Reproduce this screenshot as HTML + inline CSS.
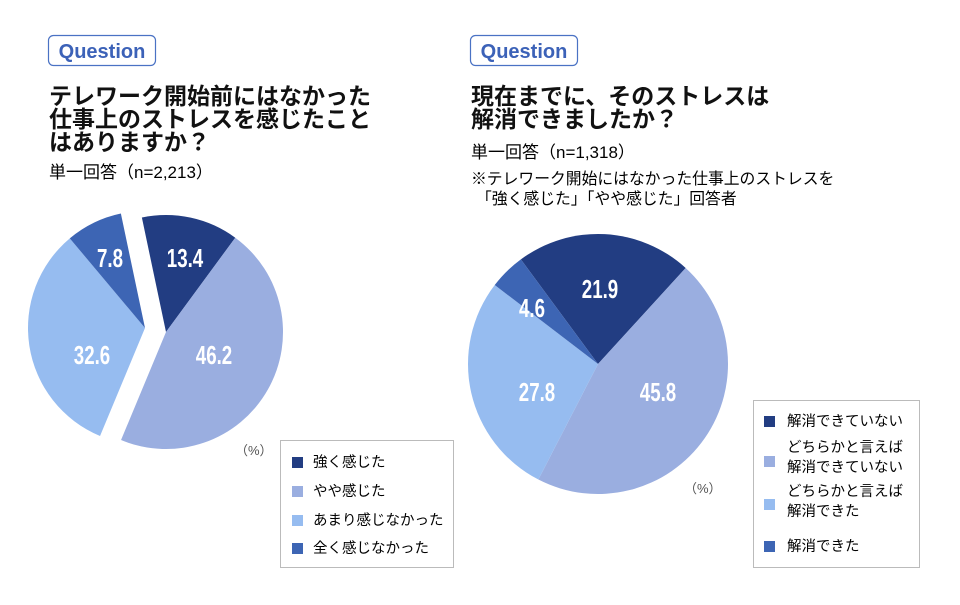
<!DOCTYPE html>
<html><head><meta charset="utf-8"><style>
body{margin:0;width:960px;height:600px;background:#fff;overflow:hidden;font-family:"Liberation Sans","Noto Sans CJK JP",sans-serif;color:#111}
</style></head><body>
<svg id="s" width="960" height="600" xmlns="http://www.w3.org/2000/svg" font-family="Liberation Sans, Noto Sans CJK JP, sans-serif">
<rect x="48.5" y="35.5" width="107" height="30" rx="5" fill="none" stroke="#4a72c4" stroke-width="1.2"/>
<text x="102" y="58" text-anchor="middle" font-size="20" font-weight="bold" fill="#3c62b8">Question</text>
<rect x="470.5" y="35.5" width="107" height="30" rx="5" fill="none" stroke="#4a72c4" stroke-width="1.2"/>
<text x="524" y="58" text-anchor="middle" font-size="20" font-weight="bold" fill="#3c62b8">Question</text>
<g font-size="23" font-weight="bold" fill="#111">
<text x="49" y="104">テレワーク開始前にはなかった</text>
<text x="49" y="127">仕事上のストレスを感じたこと</text>
<text x="49" y="150">はありますか？</text>
<text x="471" y="104">現在までに、そのストレスは</text>
<text x="471" y="127">解消できましたか？</text>
</g>
<text x="49" y="178" font-size="17">単一回答（n=2,213）</text>
<text x="471" y="158" font-size="17">単一回答（n=1,318）</text>
<text x="471" y="184" font-size="15.8">※テレワーク開始にはなかった仕事上のストレスを</text>
<text x="476" y="204" font-size="15.8">「強く感じた」「やや感じた」回答者</text>
<g id="pies"></g>
<g id="lbl" font-size="26" font-weight="bold" fill="#fff" text-anchor="middle"></g>
<text x="235" y="455" font-size="13" fill="#555">（%）</text>
<text x="684" y="493" font-size="13" fill="#555">（%）</text>
<rect x="280.5" y="440.5" width="173" height="127" fill="#fff" stroke="#bbb"/>
<g font-size="14.5">
<rect x="292" y="457" width="11" height="11" fill="#223d82"/><text x="313" y="467">強く感じた</text>
<rect x="292" y="486" width="11" height="11" fill="#9aaee0"/><text x="313" y="496">やや感じた</text>
<rect x="292" y="515" width="11" height="11" fill="#96bcf0"/><text x="313" y="525">あまり感じなかった</text>
<rect x="292" y="543" width="11" height="11" fill="#3d65b4"/><text x="313" y="553">全く感じなかった</text>
</g>
<rect x="753.5" y="400.5" width="166" height="167" fill="#fff" stroke="#bbb"/>
<g font-size="14.5">
<rect x="764" y="416" width="11" height="11" fill="#223d82"/><text x="787" y="426">解消できていない</text>
<rect x="764" y="456" width="11" height="11" fill="#9aaee0"/><text x="787" y="452">どちらかと言えば</text><text x="787" y="472">解消できていない</text>
<rect x="764" y="499" width="11" height="11" fill="#96bcf0"/><text x="787" y="496">どちらかと言えば</text><text x="787" y="516">解消できた</text>
<rect x="764" y="541" width="11" height="11" fill="#3d65b4"/><text x="787" y="551">解消できた</text>
</g>
</svg>
<script>
function arc(cx,cy,r,a0,a1,c){
 const p=a=>{const t=a*Math.PI/180;return [cx+r*Math.sin(t),cy-r*Math.cos(t)]};
 const s=p(a0),e=p(a1);const l=(a1-a0)>180?1:0;
 return `<path d="M${cx},${cy}L${s[0].toFixed(2)},${s[1].toFixed(2)}A${r},${r} 0 ${l} 1 ${e[0].toFixed(2)},${e[1].toFixed(2)}Z" fill="${c}"/>`;
}
let h='';
h+=arc(166,332,117,-11.9,36.3,'#223d82');
h+=arc(166,332,117,36.3,202.6,'#9aaee0');
h+=arc(145,328,117,202.6,320,'#96bcf0');
h+=arc(145,328,117,320,348.1,'#3d65b4');
h+=arc(598,364,130,-36.4,42.4,'#223d82');
h+=arc(598,364,130,42.4,207.3,'#9aaee0');
h+=arc(598,364,130,207.3,307.4,'#96bcf0');
h+=arc(598,364,130,307.4,323.6,'#3d65b4');
document.getElementById('pies').innerHTML=h;
const L=[[185,267,'13.4'],[214,364,'46.2'],[92,364,'32.6'],[110,267,'7.8'],[600,298,'21.9'],[658,401,'45.8'],[537,401,'27.8'],[532,317,'4.6']];
document.getElementById('lbl').innerHTML=L.map(([x,y,t])=>`<text transform="translate(${x},${y}) scale(0.72,1)" x="0" y="0">${t}</text>`).join('');
</script>
</body></html>
